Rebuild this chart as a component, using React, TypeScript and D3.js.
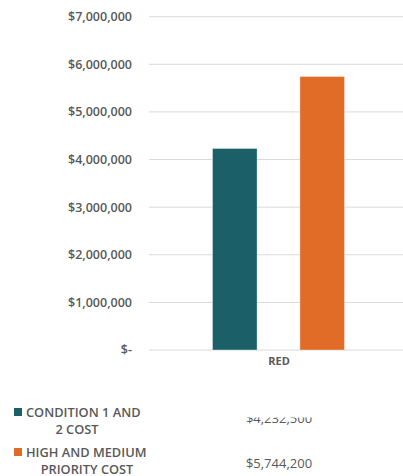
import React from "react";
import * as d3 from "d3";

const categories = ["RED"];
const seriesNames = ["CONDITION 1 AND 2 COST", "HIGH AND MEDIUM PRIORITY COST"];
const seriesLegendLines = [["CONDITION 1 AND", "2 COST"], ["HIGH AND MEDIUM", "PRIORITY COST"]];
const seriesValues = [[4232500], [5744200]];
const seriesColors = ["#1b5f69", "#e06c27"];
const yTicks = [0, 1000000, 2000000, 3000000, 4000000, 5000000, 6000000, 7000000];

const W = 403, H = 476;
const FONT = "'Open Sans', 'DejaVu Sans', sans-serif";
const TXT = "#595959";

export default function App() {
  const y = d3.scaleLinear().domain([0, 7000000]).range([350, 16.7]);
  const x0 = d3.scaleBand().domain(categories).range([149, 409]).paddingInner(0).paddingOuter(0);
  const x1 = d3.scaleBand().domain(seriesNames.map((_, i) => String(i))).range([63.5, 195.5]).paddingInner(0.49).paddingOuter(0);
  const fmt = (v: number) => (v === 0 ? "$-" : "$" + d3.format(",")(v));
  const fmtVal = (v: number) => "$" + d3.format(",")(v);
  const legendTops = [408, 448];
  const line2Centers = [77, 87];

  return (
    <svg width={W} height={H} style={{ position: "absolute", left: 0, top: 0, background: "#fff" }} fontFamily={FONT}>
      <defs>
        <clipPath id="clipTop">
          <rect x={200} y={417.5} width={180} height={20} />
        </clipPath>
      </defs>
      {yTicks.map((t) => (
        <g key={t}>
          <line x1={149} x2={W} y1={y(t)} y2={y(t)} stroke="#d9d9d9" strokeWidth={1} />
          <text x={132} y={y(t)} dy="0.35em" textAnchor="end" fontSize={12.5} fontWeight={600} fill={TXT}>
            {fmt(t)}
          </text>
        </g>
      ))}
      {categories.map((c, ci) => (
        <g key={c} transform={`translate(${x0(c)},0)`}>
          {seriesValues.map((vals, si) => (
            <rect
              key={si}
              x={x1(String(si))}
              y={y(vals[ci])}
              width={x1.bandwidth()}
              height={y(0) - y(vals[ci])}
              fill={seriesColors[si]}
              stroke="rgba(255,255,255,0.45)"
              strokeWidth={0.8}
            />
          ))}
          <text x={x0.bandwidth() / 2} y={365} textAnchor="middle" fontSize={11} fontWeight={700} fill={TXT}>
            {c}
          </text>
        </g>
      ))}
      {seriesNames.map((s, si) => {
        const top = legendTops[si];
        return (
          <g key={s}>
            <rect x={14} y={top} width={8} height={8} fill={seriesColors[si]} />
            <text x={26} y={top + 9.2} fontSize={12.8} fontWeight={600} fill={TXT}>
              {seriesLegendLines[si][0]}
            </text>
            <text x={line2Centers[si]} y={top + 25.5} textAnchor="middle" fontSize={12.8} fontWeight={600} fill={TXT}>
              {seriesLegendLines[si][1]}
            </text>
          </g>
        );
      })}
      <g clipPath="url(#clipTop)">
        <text x={279} y={423.3} textAnchor="middle" fontSize={13} fill={TXT}>
          {fmtVal(seriesValues[0][0])}
        </text>
      </g>
      <text x={279} y={467.5} textAnchor="middle" fontSize={13} fill={TXT}>
        {fmtVal(seriesValues[1][0])}
      </text>
    </svg>
  );
}
